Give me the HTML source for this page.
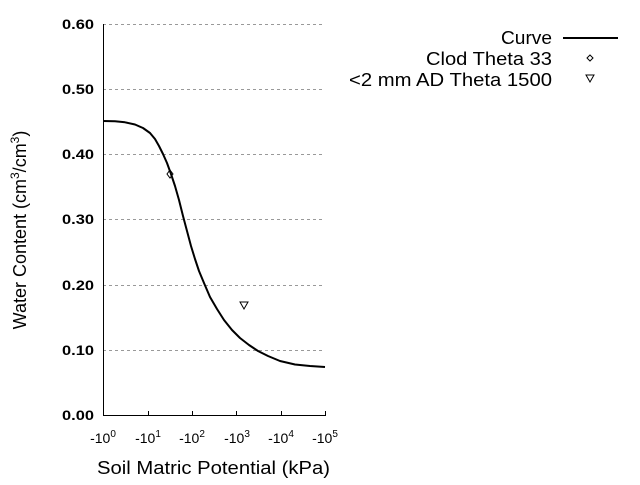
<!DOCTYPE html>
<html><head><style>body{margin:0;background:#fff}</style></head><body>
<svg width="640" height="480" xmlns="http://www.w3.org/2000/svg" font-family="Liberation Sans, sans-serif">
<rect width="640" height="480" fill="#fff"/>
<g stroke="#999" stroke-dasharray="3,3" stroke-width="1">
<line x1="103" x2="325" y1="24.5" y2="24.5"/>
<line x1="103" x2="325" y1="89.5" y2="89.5"/>
<line x1="103" x2="325" y1="154.5" y2="154.5"/>
<line x1="103" x2="325" y1="219.5" y2="219.5"/>
<line x1="103" x2="325" y1="285.5" y2="285.5"/>
<line x1="103" x2="325" y1="350.5" y2="350.5"/>
</g>
<g stroke="#000" stroke-width="1">
<line x1="103.5" x2="103.5" y1="24" y2="416"/>
<line x1="103" x2="325" y1="415.5" y2="415.5"/>
<line x1="148.5" x2="148.5" y1="411" y2="416"/>
<line x1="192.5" x2="192.5" y1="411" y2="416"/>
<line x1="236.5" x2="236.5" y1="411" y2="416"/>
<line x1="281.5" x2="281.5" y1="411" y2="416"/>
<line x1="325.5" x2="325.5" y1="411" y2="416"/>
</g>
<g font-size="14" font-weight="bold" text-anchor="end">
<text x="94" y="29" textLength="32" lengthAdjust="spacingAndGlyphs">0.60</text>
<text x="94" y="94" textLength="32" lengthAdjust="spacingAndGlyphs">0.50</text>
<text x="94" y="159" textLength="32" lengthAdjust="spacingAndGlyphs">0.40</text>
<text x="94" y="224" textLength="32" lengthAdjust="spacingAndGlyphs">0.30</text>
<text x="94" y="290" textLength="32" lengthAdjust="spacingAndGlyphs">0.20</text>
<text x="94" y="355" textLength="32" lengthAdjust="spacingAndGlyphs">0.10</text>
<text x="94" y="420" textLength="32" lengthAdjust="spacingAndGlyphs">0.00</text>
</g>
<g font-size="14" text-anchor="middle">
<text x="103" y="443">-10<tspan font-size="10" dy="-6">0</tspan></text>
<text x="148" y="443">-10<tspan font-size="10" dy="-6">1</tspan></text>
<text x="192" y="443">-10<tspan font-size="10" dy="-6">2</tspan></text>
<text x="237" y="443">-10<tspan font-size="10" dy="-6">3</tspan></text>
<text x="281" y="443">-10<tspan font-size="10" dy="-6">4</tspan></text>
<text x="325" y="443">-10<tspan font-size="10" dy="-6">5</tspan></text>
</g>
<text x="97" y="474" font-size="18" textLength="233" lengthAdjust="spacingAndGlyphs">Soil Matric Potential (kPa)</text>
<text transform="translate(26,230) rotate(-90)" font-size="18" text-anchor="middle">Water Content (cm<tspan font-size="12" dy="-7">3</tspan><tspan dy="7">/cm</tspan><tspan font-size="12" dy="-7">3</tspan><tspan dy="7">)</tspan></text>
<path d="M103,121 L115,121.3 L125,122.3 L135,124.5 L143,128 L150,133 L155,139 L159,146 L163,154 L167,163 L171,174 L175,186 L179,200 L183,216 L187,231 L191,246 L195,259 L199,271 L204,283 L210,297 L217,309 L224,320 L232,330 L240,338 L249,345 L258,351 L268,356 L280,361 L295,364.5 L310,366 L325,367" fill="none" stroke="#000" stroke-width="2" stroke-linejoin="round"/>
<path d="M170,170 L173,174 L170,178 L167,174 Z" fill="none" stroke="#000"/>
<path d="M240,302 L248,302 L244,309 Z" fill="none" stroke="#000"/>
<g font-size="18" text-anchor="end">
<text x="552" y="44" textLength="51" lengthAdjust="spacingAndGlyphs">Curve</text>
<text x="552" y="65" textLength="126" lengthAdjust="spacingAndGlyphs">Clod Theta 33</text>
<text x="552" y="86" textLength="203" lengthAdjust="spacingAndGlyphs">&lt;2 mm AD Theta 1500</text>
</g>
<line x1="563" x2="618" y1="38" y2="38" stroke="#000" stroke-width="2"/>
<path d="M590,55 L593,58 L590,61 L587,58 Z" fill="none" stroke="#000"/>
<path d="M586,75 L594,75 L590,82 Z" fill="none" stroke="#000"/>
</svg>
</body></html>
